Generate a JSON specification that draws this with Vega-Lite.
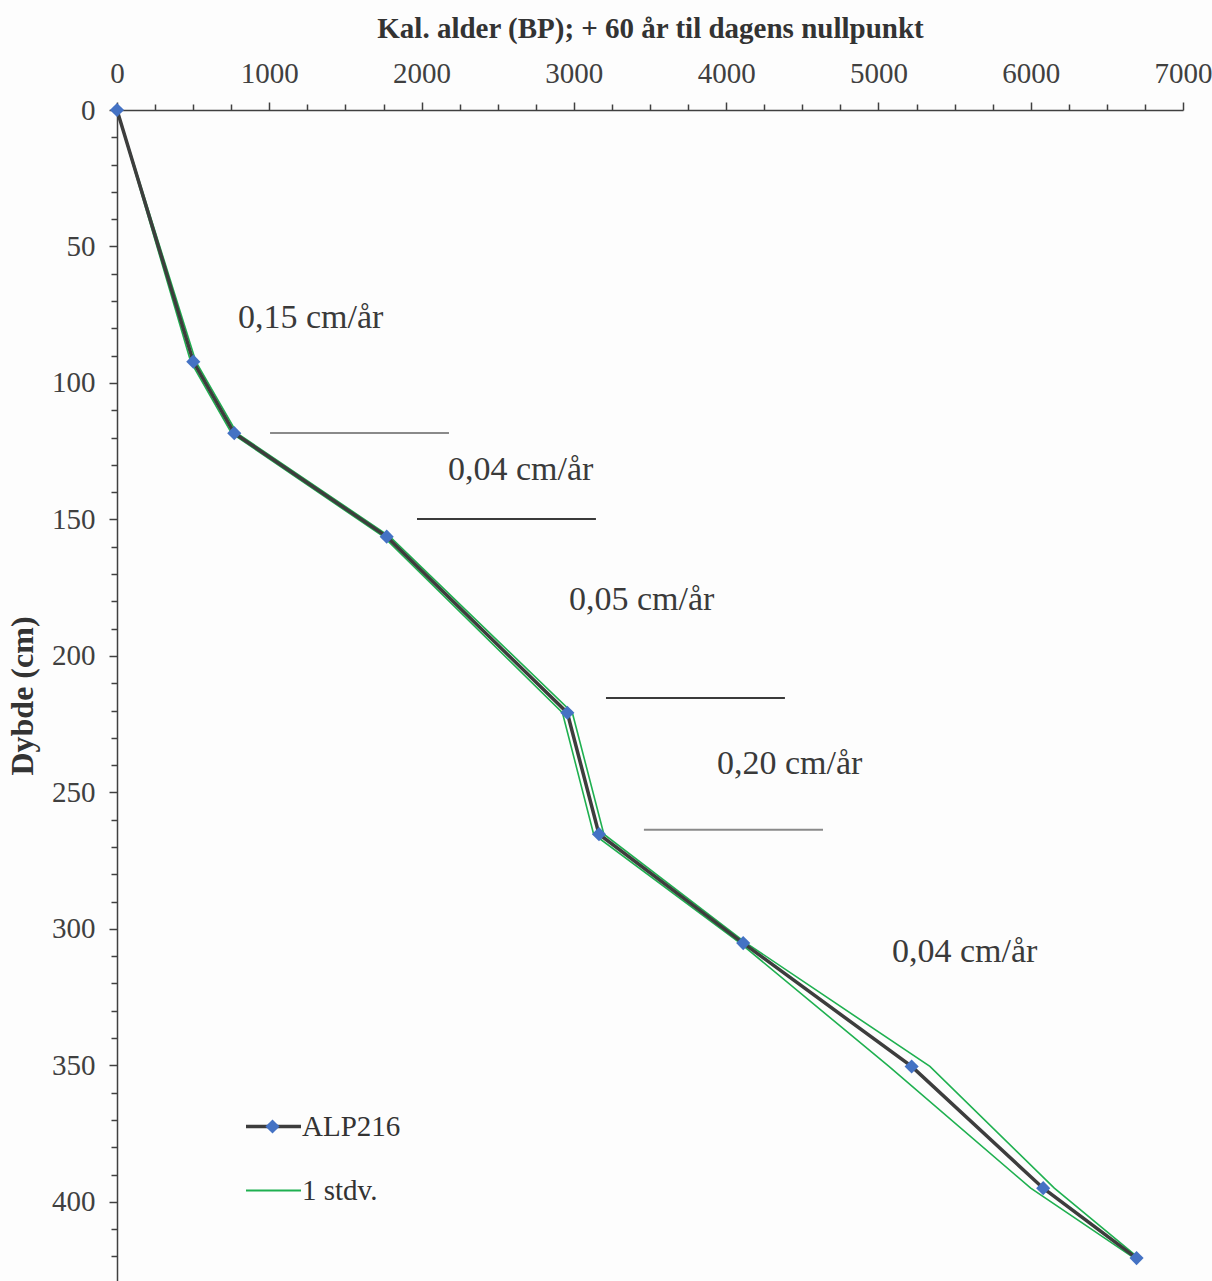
{
  "$schema": "https://vega.github.io/schema/vega-lite/v6.json",
  "autosize": "none",
  "width": 1066,
  "height": 1171,
  "padding": {"left": 117, "top": 110, "right": 29, "bottom": 0},
  "background": "#fdfdfd",
  "config": {
    "view": {"stroke": null},
    "font": "Liberation Serif",
    "axis": {
      "labelFont": "Liberation Serif",
      "labelFontSize": 29,
      "labelColor": "#404040",
      "labelFlush": false,
      "domainColor": "#404040",
      "domainWidth": 1.5,
      "tickColor": "#404040",
      "tickWidth": 1.5,
      "grid": false,
      "titleFont": "Liberation Serif",
      "titleFontWeight": "bold",
      "titleColor": "#333333"
    }
  },
  "datasets": {
    "core": [
      {"series": "ALP216", "bound": "mid", "depth": 0, "age": 0},
      {"series": "ALP216", "bound": "mid", "depth": 92.2, "age": 501},
      {"series": "ALP216", "bound": "mid", "depth": 118.4, "age": 770},
      {"series": "ALP216", "bound": "mid", "depth": 156.3, "age": 1771},
      {"series": "ALP216", "bound": "mid", "depth": 220.8, "age": 2957},
      {"series": "ALP216", "bound": "mid", "depth": 265.3, "age": 3165},
      {"series": "ALP216", "bound": "mid", "depth": 305.2, "age": 4112},
      {"series": "ALP216", "bound": "mid", "depth": 350.4, "age": 5218},
      {"series": "ALP216", "bound": "mid", "depth": 395, "age": 6082},
      {"series": "ALP216", "bound": "mid", "depth": 420.6, "age": 6695},
      {"series": "1 stdv.", "bound": "lower", "depth": 0, "age": 0},
      {"series": "1 stdv.", "bound": "lower", "depth": 92.2, "age": 484},
      {"series": "1 stdv.", "bound": "lower", "depth": 118.4, "age": 752},
      {"series": "1 stdv.", "bound": "lower", "depth": 156.3, "age": 1750},
      {"series": "1 stdv.", "bound": "lower", "depth": 220.8, "age": 2925},
      {"series": "1 stdv.", "bound": "lower", "depth": 265.3, "age": 3130},
      {"series": "1 stdv.", "bound": "lower", "depth": 305.2, "age": 4092},
      {"series": "1 stdv.", "bound": "lower", "depth": 350.4, "age": 5069},
      {"series": "1 stdv.", "bound": "lower", "depth": 395, "age": 6000},
      {"series": "1 stdv.", "bound": "lower", "depth": 420.6, "age": 6680},
      {"series": "1 stdv.", "bound": "upper", "depth": 0, "age": 0},
      {"series": "1 stdv.", "bound": "upper", "depth": 92.2, "age": 518},
      {"series": "1 stdv.", "bound": "upper", "depth": 118.4, "age": 788},
      {"series": "1 stdv.", "bound": "upper", "depth": 156.3, "age": 1792},
      {"series": "1 stdv.", "bound": "upper", "depth": 220.8, "age": 2990},
      {"series": "1 stdv.", "bound": "upper", "depth": 265.3, "age": 3197},
      {"series": "1 stdv.", "bound": "upper", "depth": 305.2, "age": 4132},
      {"series": "1 stdv.", "bound": "upper", "depth": 350.4, "age": 5338},
      {"series": "1 stdv.", "bound": "upper", "depth": 395, "age": 6155},
      {"series": "1 stdv.", "bound": "upper", "depth": 420.6, "age": 6710}
    ],
    "rates": [
      {"rate": "0,15 cm/år", "age": 794, "depth": 76.2},
      {"rate": "0,04 cm/år", "age": 2173, "depth": 131.9},
      {"rate": "0,05 cm/år", "age": 2968, "depth": 179.5},
      {"rate": "0,20 cm/år", "age": 3940, "depth": 239.6},
      {"rate": "0,04 cm/år", "age": 5089, "depth": 308.4}
    ],
    "zoneLinesGrey": [
      {"from": 1005, "to": 2180, "depth": 118.3},
      {"from": 3460, "to": 4636, "depth": 263.7}
    ],
    "zoneLinesDark": [
      {"from": 1970, "to": 3145, "depth": 149.8},
      {"from": 3211, "to": 4386, "depth": 215.4}
    ]
  },
  "resolve": {"axis": {"x": "independent", "y": "independent"}},
  "layer": [
    {
      "data": {"name": "zoneLinesGrey"},
      "mark": {"type": "rule", "color": "#8a8a8a", "strokeWidth": 2},
      "encoding": {
        "x": {"field": "from", "type": "quantitative", "scale": {"domain": [0, 7000], "nice": false}, "axis": null},
        "x2": {"field": "to"},
        "y": {"field": "depth", "type": "quantitative", "scale": {"domain": [0, 429], "reverse": true, "nice": false, "zero": false}, "axis": null}
      }
    },
    {
      "data": {"name": "zoneLinesDark"},
      "mark": {"type": "rule", "color": "#3a3a3a", "strokeWidth": 2},
      "encoding": {
        "x": {"field": "from", "type": "quantitative", "axis": null},
        "x2": {"field": "to"},
        "y": {"field": "depth", "type": "quantitative", "axis": null}
      }
    },
    {
      "data": {"name": "rates"},
      "mark": {"type": "text", "align": "left", "baseline": "middle", "font": "Liberation Serif", "fontSize": 34, "color": "#3a3a3a"},
      "encoding": {
        "x": {"field": "age", "type": "quantitative", "axis": null},
        "y": {"field": "depth", "type": "quantitative", "axis": null},
        "text": {"field": "rate"}
      }
    },
    {
      "data": {"name": "core"},
      "transform": [{"filter": "datum.series === '1 stdv.'"}],
      "mark": {"type": "line", "strokeWidth": 1.6},
      "encoding": {
        "x": {
          "field": "age", "type": "quantitative",
          "axis": {"orient": "top", "values": [250, 500, 750, 1250, 1500, 1750, 2250, 2500, 2750, 3250, 3500, 3750, 4250, 4500, 4750, 5250, 5500, 5750, 6250, 6500, 6750], "labels": false, "domain": false, "tickSize": 6, "title": null}
        },
        "y": {
          "field": "depth", "type": "quantitative",
          "axis": {"orient": "left", "values": [10, 20, 30, 40, 60, 70, 80, 90, 110, 120, 130, 140, 160, 170, 180, 190, 210, 220, 230, 240, 260, 270, 280, 290, 310, 320, 330, 340, 360, 370, 380, 390, 410, 420], "labels": false, "domain": false, "tickSize": 6, "title": null}
        },
        "color": {"field": "series", "type": "nominal", "scale": {"domain": ["ALP216", "1 stdv."], "range": ["#3d3d3d", "#1fb050"]}},
        "detail": {"field": "bound"},
        "order": {"field": "depth", "type": "quantitative"}
      }
    },
    {
      "data": {"name": "core"},
      "transform": [{"filter": "datum.series === 'ALP216'"}],
      "mark": {"type": "line", "strokeWidth": 3.5},
      "encoding": {
        "x": {
          "field": "age", "type": "quantitative",
          "axis": {"orient": "top", "values": [0, 1000, 2000, 3000, 4000, 5000, 6000, 7000], "format": "d", "tickSize": 8, "labelPadding": 14, "title": "Kal. alder (BP); + 60 år til dagens nullpunkt", "titleFontSize": 29, "titlePadding": 16}
        },
        "y": {
          "field": "depth", "type": "quantitative",
          "axis": {"orient": "left", "values": [0, 50, 100, 150, 200, 250, 300, 350, 400], "format": "d", "tickSize": 8, "labelPadding": 14, "title": "Dybde (cm)", "titleFontSize": 32, "titlePadding": 12}
        },
        "color": {
          "field": "series", "type": "nominal",
          "scale": {"domain": ["ALP216", "1 stdv."], "range": ["#3d3d3d", "#1fb050"]},
          "legend": {
            "orient": "none", "legendX": 142, "legendY": 1002, "title": null,
            "symbolType": "stroke", "symbolSize": 3025, "symbolStrokeWidth": 3,
            "labelFont": "Liberation Serif", "labelFontSize": 29, "labelColor": "#333333",
            "labelOffset": 14, "rowPadding": 34, "padding": 0, "labelLimit": 0,
            "encode": {"symbols": {"update": {"strokeWidth": {"signal": "datum.value === 'ALP216' ? 3.5 : 2"}}}}
          }
        },
        "order": {"field": "depth", "type": "quantitative"}
      }
    },
    {
      "data": {"name": "core"},
      "transform": [{"filter": "datum.series === 'ALP216'"}],
      "mark": {"type": "point", "shape": "diamond", "filled": true, "size": 200, "strokeWidth": 0, "opacity": 1},
      "encoding": {
        "x": {"field": "age", "type": "quantitative", "axis": null},
        "y": {"field": "depth", "type": "quantitative", "axis": null},
        "fill": {
          "field": "series", "type": "nominal",
          "scale": {"domain": ["ALP216"], "range": ["#4472c4"]},
          "legend": {
            "orient": "none", "legendX": 141, "legendY": 1002, "title": null,
            "symbolType": "diamond", "symbolSize": 200, "symbolStrokeWidth": 0,
            "labelExpr": "''", "labelFontSize": 29, "padding": 0, "zindex": 2
          }
        }
      }
    }
  ]
}
